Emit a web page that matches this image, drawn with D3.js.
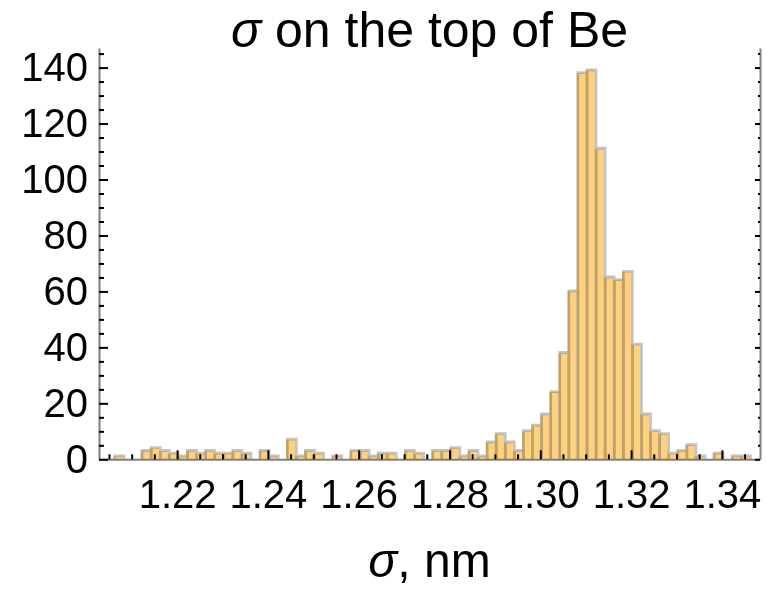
<!DOCTYPE html>
<html>
<head>
<meta charset="utf-8">
<script src="https://cdn.jsdelivr.net/npm/d3@7"></script>
<style>
  body { margin: 0; background: #fff; }
  text { font-family: "Liberation Sans", Arial, sans-serif; fill: #000; }
</style>
</head>
<body>
<div id="chart"></div>
<script>
// Histogram: bin left edges start at binStart, each binWidth wide
const binStart = 1.204;
const binWidth = 0.002;
const counts = [
  0, 1, 0, 0, 3, 4, 3, 2, 1, 3,      // 1.204 - 1.222
  2, 3, 2, 2, 3, 2, 0, 3, 1, 0,      // 1.224 - 1.242
  7, 1, 3, 2, 0, 1, 0, 3, 3, 1,      // 1.244 - 1.262
  2, 2, 0, 3, 2, 0, 3, 3, 4, 1,      // 1.264 - 1.282
  3, 1, 6, 9, 6, 3, 10, 12, 16, 24,  // 1.284 - 1.302
  38, 60, 138, 139, 111, 65, 64, 67, 41, 16, // 1.304 - 1.322
  10, 9, 2, 3, 5, 1, 0, 2, 0, 1,     // 1.324 - 1.342
  1                                  // 1.344
];

const xTicks = [1.22, 1.24, 1.26, 1.28, 1.30, 1.32, 1.34];
const yTicks = [0, 20, 40, 60, 80, 100, 120, 140];
const title = "on the top of Be";
const xLabel = ", nm";

const width = 768;
const height = 589;
const marginLeft = 99;
const marginRight = 8;
const marginTop = 48;
const baseY = 459.3;

const x = d3.scaleLinear()
    .domain([1.2028, 1.3484])
    .range([marginLeft, width - marginRight]);

const y = d3.scaleLinear()
    .domain([0, 147])
    .range([baseY, marginTop]);

const svg = d3.select("#chart")
  .append("svg")
    .attr("width", width)
    .attr("height", height)
    .attr("viewBox", [0, 0, width, height]);

svg.append("rect").attr("width", width).attr("height", height).attr("fill", "#fff");

const bins = counts.map((c, i) => ({
  x0: binStart + i * binWidth,
  x1: binStart + (i + 1) * binWidth,
  count: c
})).filter(d => d.count > 0);

// bar fills
svg.append("g")
  .selectAll("rect")
  .data(bins)
  .join("rect")
    .attr("x", d => x(d.x0))
    .attr("y", d => y(d.count))
    .attr("width", d => x(d.x1) - x(d.x0))
    .attr("height", d => y(0) - y(d.count))
    .attr("fill", "rgb(253,209,130)");

// bar edges, multiplied over the fills (tan on orange, grey on white)
svg.append("g")
    .style("mix-blend-mode", "multiply")
  .selectAll("path")
  .data(bins)
  .join("path")
    .attr("fill", "none")
    .attr("stroke", "#c4c4c4")
    .attr("stroke-width", 2.7)
    .attr("d", d => {
      const a = x(d.x0) + 1.3, b = x(d.x1) + 1.3, t = y(d.count) - 0.6;
      return `M${a},${baseY}V${t}H${b}V${baseY}`;
    });

const minorX = d3.range(1205, 1350, 5).map(v => v / 1000).filter(v => !xTicks.some(t => Math.abs(t - v) < 1e-9));
const minorY = d3.range(5, 150, 5).filter(v => v % 20 !== 0);

function styleAxis(g) {
  g.select(".domain").attr("stroke", "#808080").attr("stroke-width", 2);
  g.selectAll(".tick line").attr("stroke", "#000").attr("stroke-width", 2);
  g.selectAll(".tick text").attr("font-size", 40).attr("fill", "#000");
}

// x axis (ticks point inward)
svg.append("g")
    .attr("transform", `translate(0,${baseY})`)
    .call(d3.axisBottom(x).tickValues(minorX).tickSize(-5).tickSizeOuter(0).tickFormat(""))
    .call(styleAxis);
svg.append("g")
    .attr("transform", `translate(0,${baseY})`)
    .call(d3.axisBottom(x).tickValues(xTicks).tickSize(-9).tickSizeOuter(0)
      .tickPadding(20).tickFormat(d3.format(".2f")))
    .call(styleAxis)
    .call(g => g.select(".domain").remove());

// left y axis
svg.append("g")
    .attr("transform", `translate(${marginLeft},0)`)
    .call(d3.axisLeft(y).tickValues(minorY).tickSize(-5).tickSizeOuter(0).tickFormat(""))
    .call(styleAxis);
svg.append("g")
    .attr("transform", `translate(${marginLeft},0)`)
    .call(d3.axisLeft(y).tickValues(yTicks).tickSize(-9).tickSizeOuter(0).tickPadding(11))
    .call(styleAxis)
    .call(g => g.select(".domain").remove());

// right y axis, short ticks only
svg.append("g")
    .attr("transform", `translate(${width - marginRight},0)`)
    .call(d3.axisRight(y).tickValues(minorY).tickSize(-2).tickSizeOuter(0).tickFormat(""))
    .call(styleAxis);
svg.append("g")
    .attr("transform", `translate(${width - marginRight},0)`)
    .call(d3.axisRight(y).tickValues(yTicks).tickSize(-5).tickSizeOuter(0).tickFormat(""))
    .call(styleAxis)
    .call(g => g.select(".domain").remove());

// title
const t = svg.append("text")
    .attr("x", (marginLeft + width - marginRight) / 2)
    .attr("y", 47)
    .attr("text-anchor", "middle")
    .attr("font-size", 50);
t.append("tspan").attr("font-style", "italic").text("σ");
t.append("tspan").text(" " + title);

// x label
const xl = svg.append("text")
    .attr("x", (marginLeft + width - marginRight) / 2)
    .attr("y", 577)
    .attr("text-anchor", "middle")
    .attr("font-size", 48);
xl.append("tspan").attr("font-style", "italic").text("σ");
xl.append("tspan").text(xLabel);
</script>
</body>
</html>
